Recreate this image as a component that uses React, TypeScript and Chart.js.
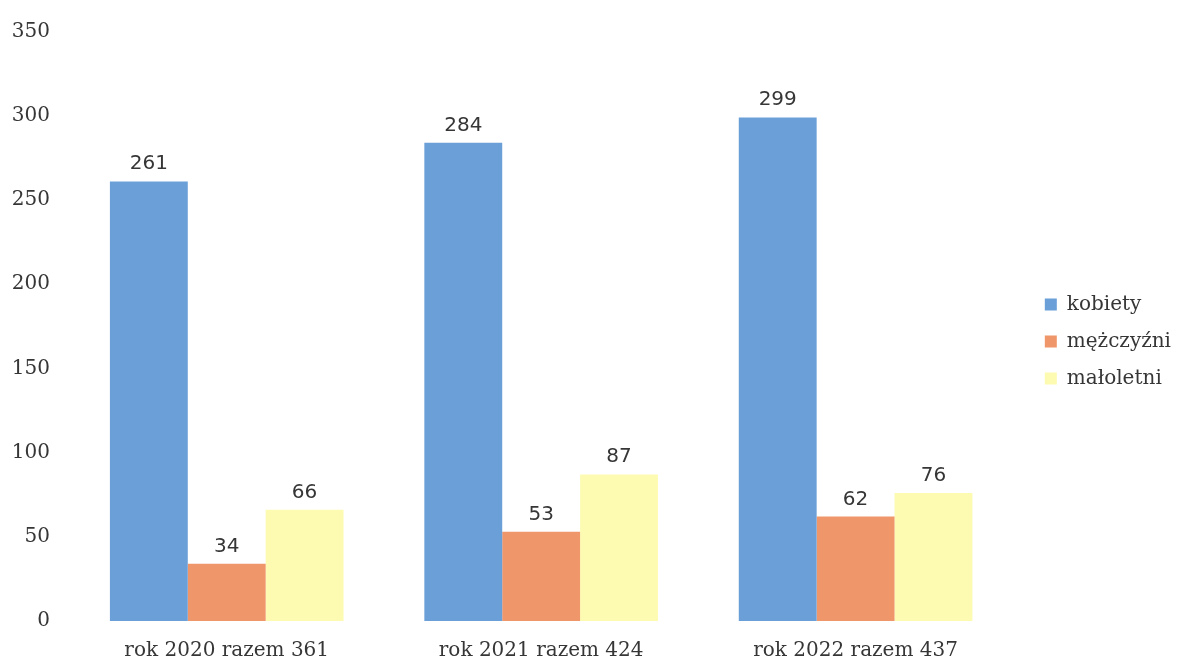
import React, { useEffect, useRef } from "react";
import { Chart, registerables } from "chart.js";

Chart.register(...registerables);

const categories = ["rok 2020 razem 361", "rok 2021 razem 424", "rok 2022 razem 437"];
const seriesNames = ["kobiety", "mężczyźni", "małoletni"];
const kobiety = [261, 284, 299];
const mezczyzni = [34, 53, 62];
const maloletni = [66, 87, 76];
const yTicks = [0, 50, 100, 150, 200, 250, 300, 350];

const colors = ["#6a9fd8", "#f0966b", "#fdfbb2"];
const textColor = "#363636";
const serif = "'DejaVu Serif', serif";

const valueLabels = {
  id: "valueLabels",
  afterDatasetsDraw(chart: any) {
    const ctx = chart.ctx;
    ctx.save();
    ctx.font = "20px 'DejaVu Sans', sans-serif";
    ctx.fillStyle = textColor;
    ctx.textAlign = "center";
    ctx.textBaseline = "alphabetic";
    chart.data.datasets.forEach((ds: any, i: number) => {
      const meta = chart.getDatasetMeta(i);
      meta.data.forEach((bar: any, j: number) => {
        ctx.fillText(String(ds.data[j]), bar.x, bar.y - 12);
      });
    });
    ctx.restore();
  },
};

const legendShift = {
  id: "legendShift",
  afterLayout(chart: any) {
    const L = chart.legend;
    if (!L) return;
    const dx = 15;
    const dy = -3;
    L.left += dx;
    L.right += dx;
    L.top += dy;
    L.bottom += dy;
  },
};

export default function App() {
  const ref = useRef<HTMLCanvasElement | null>(null);

  useEffect(() => {
    document.body.style.margin = "0";
    const canvas = ref.current;
    if (!canvas) return;
    const chart = new Chart(canvas, {
      type: "bar",
      data: {
        labels: categories,
        datasets: [
          { label: seriesNames[0], data: kobiety, backgroundColor: colors[0] },
          { label: seriesNames[1], data: mezczyzni, backgroundColor: colors[1] },
          { label: seriesNames[2], data: maloletni, backgroundColor: colors[2] },
        ],
      },
      options: {
        animation: false,
        responsive: false,
        maintainAspectRatio: false,
        layout: { padding: { top: 27, right: 12, bottom: 0, left: 0 } },
        datasets: {
          bar: { categoryPercentage: 0.743, barPercentage: 1.0 },
        },
        scales: {
          x: {
            grid: { display: false, drawTicks: false },
            border: { display: false },
            ticks: {
              color: textColor,
              font: { family: serif, size: 20 },
              padding: 18,
              maxRotation: 0,
            },
            afterFit(scale: any) {
              scale.height = 41;
            },
          },
          y: {
            min: 0,
            max: 350,
            afterBuildTicks(scale: any) {
              scale.ticks = yTicks.map((v) => ({ value: v }));
            },
            grid: { display: false, drawTicks: false },
            border: { display: false },
            ticks: {
              color: textColor,
              font: { family: serif, size: 20 },
              padding: 19.5,
            },
            afterFit(scale: any) {
              scale.width = 69.5;
            },
          },
        },
        plugins: {
          legend: {
            position: "right",
            align: "center",
            labels: {
              color: textColor,
              font: { family: serif, size: 20 },
              boxWidth: 12,
              boxHeight: 12,
              padding: 17,
            },
          },
          tooltip: { enabled: false },
        },
      },
      plugins: [valueLabels, legendShift],
    });
    return () => chart.destroy();
  }, []);

  return (
    <div style={{ width: 1178, height: 662 }}>
      <canvas ref={ref} width={1178} height={662} style={{ display: "block" }} />
    </div>
  );
}
